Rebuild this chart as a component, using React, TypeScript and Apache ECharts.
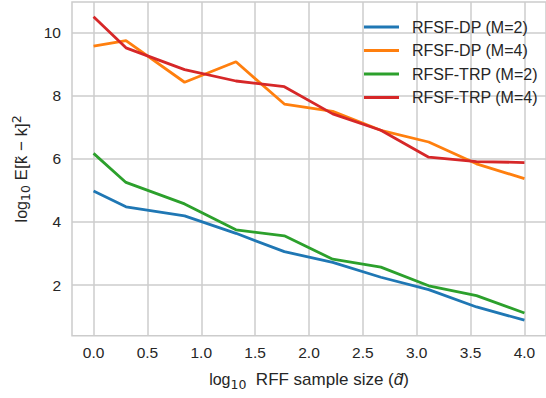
import React, { useEffect, useRef } from "react";
import * as echarts from "echarts";

const sampleSizes = [0, 0.301, 0.845, 1.322, 1.771, 2.22, 2.667, 3.111, 3.555, 4.0];
const dpM2 = [4.98, 4.48, 4.19, 3.64, 3.06, 2.72, 2.25, 1.86, 1.31, 0.89];
const dpM4 = [9.56, 9.74, 8.42, 9.07, 7.73, 7.5, 6.9, 6.53, 5.84, 5.37];
const trpM2 = [6.17, 5.25, 4.57, 3.75, 3.56, 2.82, 2.57, 1.98, 1.67, 1.12];
const trpM4 = [10.49, 9.51, 8.82, 8.46, 8.28, 7.42, 6.9, 6.05, 5.91, 5.88];
const seriesNames = ["RFSF-DP (M=2)", "RFSF-DP (M=4)", "RFSF-TRP (M=2)", "RFSF-TRP (M=4)"];
const xTicks = [0, 0.5, 1, 1.5, 2, 2.5, 3, 3.5, 4];
const yTicks = [2, 4, 6, 8, 10];

const colors = ["#1f77b4", "#ff7f0e", "#2ca02c", "#d62728"];
const FONT = "'Liberation Sans', Arial, sans-serif";
const TXT = "#262626";

export default function App() {
  const ref = useRef<HTMLDivElement>(null);
  useEffect(() => {
    document.body.style.margin = "0";
    const chart = echarts.init(ref.current!, null, { renderer: "svg" });
    const all = [dpM2, dpM4, trpM2, trpM4];
    const base = { fontSize: 17, fontFamily: FONT, color: TXT, lineHeight: 22 };
    const logS = { fontSize: 16, fontFamily: FONT, color: TXT, lineHeight: 22 };
    const sub = { fontSize: 12.5, fontFamily: "'DejaVu Sans', sans-serif", color: TXT, lineHeight: 11, verticalAlign: "bottom" };
    const sup = { fontSize: 12.5, fontFamily: "'DejaVu Sans', sans-serif", color: TXT, lineHeight: 11, verticalAlign: "top" };
    chart.setOption({
      animation: false,
      backgroundColor: "#ffffff",
      grid: {
        left: 72,
        top: 2,
        width: 477.7,
        height: 333.7,
        show: true,
        borderColor: "#cccccc",
        borderWidth: 1.5,
        backgroundColor: "transparent",
      },
      legend: {
        orient: "vertical",
        left: 359,
        top: 12,
        itemWidth: 35,
        itemHeight: 3,
        itemGap: 3.5,
        icon: "rect",
        textStyle: { fontSize: 16, fontFamily: FONT, color: TXT, lineHeight: 20, padding: [0, 0, 0, 8] },
        data: seriesNames,
      },
      xAxis: {
        type: "value",
        min: -0.2,
        max: 4.2,
        axisLine: { show: false },
        axisTick: { show: false, customValues: xTicks },
        axisLabel: {
          customValues: xTicks,
          fontSize: 15.5,
          fontFamily: FONT,
          color: TXT,
          margin: 9,
          formatter: (v: number) => v.toFixed(1),
        },
        splitLine: { show: true, lineStyle: { color: "#cccccc", width: 1.5 } },
        name: "{l|log}{s|10}{b|  RFF sample size (}{i|d̃}{b|)}",
        nameLocation: "middle",
        nameGap: 33,
        nameTextStyle: {
          rich: {
            b: base,
            l: logS,
            s: sub,
            i: { ...base, fontStyle: "italic" },
          },
        },
      },
      yAxis: {
        type: "value",
        min: 0.4,
        max: 10.96,
        axisLine: { show: false },
        axisTick: { show: false, customValues: yTicks },
        axisLabel: {
          customValues: yTicks,
          fontSize: 15.5,
          fontFamily: FONT,
          color: TXT,
          margin: 11,
        },
        splitLine: { show: true, lineStyle: { color: "#cccccc", width: 1.5 } },
        name: "{l|log}{s|10}{b| E[k̃ − k]}{p|2}",
        nameLocation: "middle",
        nameRotate: 90,
        nameGap: 40,
        nameTextStyle: { rich: { b: base, l: logS, s: sub, p: sup } },
      },
      series: all.map((vals, i) => ({
        name: seriesNames[i],
        type: "line",
        data: sampleSizes.map((x, j) => [x, vals[j]]),
        showSymbol: false,
        symbol: "none",
        lineStyle: { color: colors[i], width: 2.8 },
        itemStyle: { color: colors[i] },
        z: 2 + i,
      })),
    });
    return () => chart.dispose();
  }, []);
  return <div ref={ref} style={{ width: 546, height: 398 }} />;
}
